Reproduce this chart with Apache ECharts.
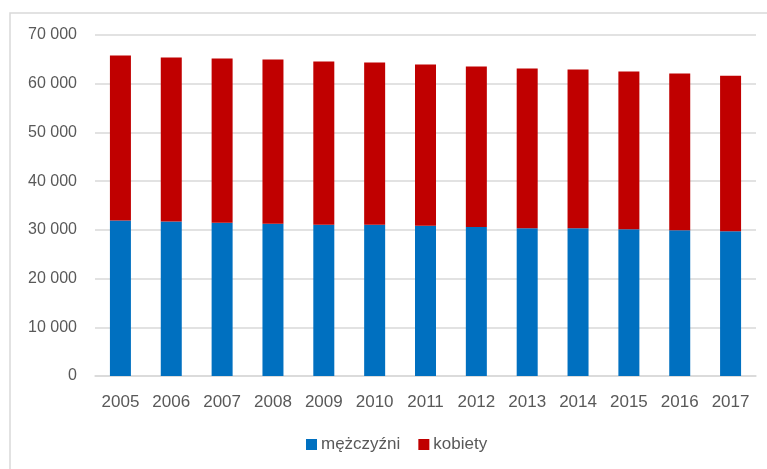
<!DOCTYPE html>
<html>
<head>
<meta charset="utf-8">
<title>mężczyźni / kobiety</title>
<script src="https://cdn.jsdelivr.net/npm/echarts@6/dist/echarts.min.js"></script>
<style>
html,body{
margin:0;
padding:0;
background:#ffffff;
}
#chart{
width:767px;
height:469px;
}
</style>
</head>
<body>

<div id="chart"></div>

<script>

const years=["2005","2006","2007","2008","2009","2010","2011","2012","2013","2014","2015","2016","2017"]

const men=[31900,31700,31440,31230,31030,31030,30820,30610,30340,30340,30130,29920,29720]

const women=[33910,33700,33750,33760,33550,33340,33140,32940,32800,32590,32390,32190,31920]

const seriesNames=["mężczyźni","kobiety"]

const font="'Liberation Sans', Arial, sans-serif"

function fmt(v){
return String(v).replace(/\B(?=(\d{3})+(?!\d))/g," ")
}

const chart=echarts.init(document.getElementById("chart"))

chart.setOption({

animation:false,

graphic:[{
type:"rect",
z:-10,
shape:{x:10,y:13,width:800,height:500},
style:{fill:"none",stroke:"#d9d9d9",lineWidth:1.5}
}],

grid:{left:95,right:11,top:35,bottom:93},

legend:{
left:301,
top:431,
itemWidth:11,
itemHeight:11,
itemGap:18,
icon:"rect",
textStyle:{color:"#595959",fontSize:17,fontFamily:font,padding:[0,0,0,-1]},
data:seriesNames
},

xAxis:{
type:"category",
data:years,
axisTick:{show:false},
axisLine:{lineStyle:{color:"#d9d9d9",width:1.5}},
axisLabel:{color:"#595959",fontSize:17,fontFamily:font,margin:18}
},

yAxis:{
type:"value",
min:0,
max:70000,
interval:10000,
axisLine:{show:false},
axisTick:{show:false},
splitLine:{lineStyle:{color:"#d9d9d9",width:1.5}},
axisLabel:{color:"#595959",fontSize:16,fontFamily:font,margin:18,formatter:fmt}
},

series:[
{
name:seriesNames[0],
type:"bar",
stack:"total",
barWidth:21,
itemStyle:{color:"#0070c0"},
data:men
},
{
name:seriesNames[1],
type:"bar",
stack:"total",
barWidth:21,
itemStyle:{color:"#c00000"},
data:women
}
]

})

</script>

</body>
</html>
